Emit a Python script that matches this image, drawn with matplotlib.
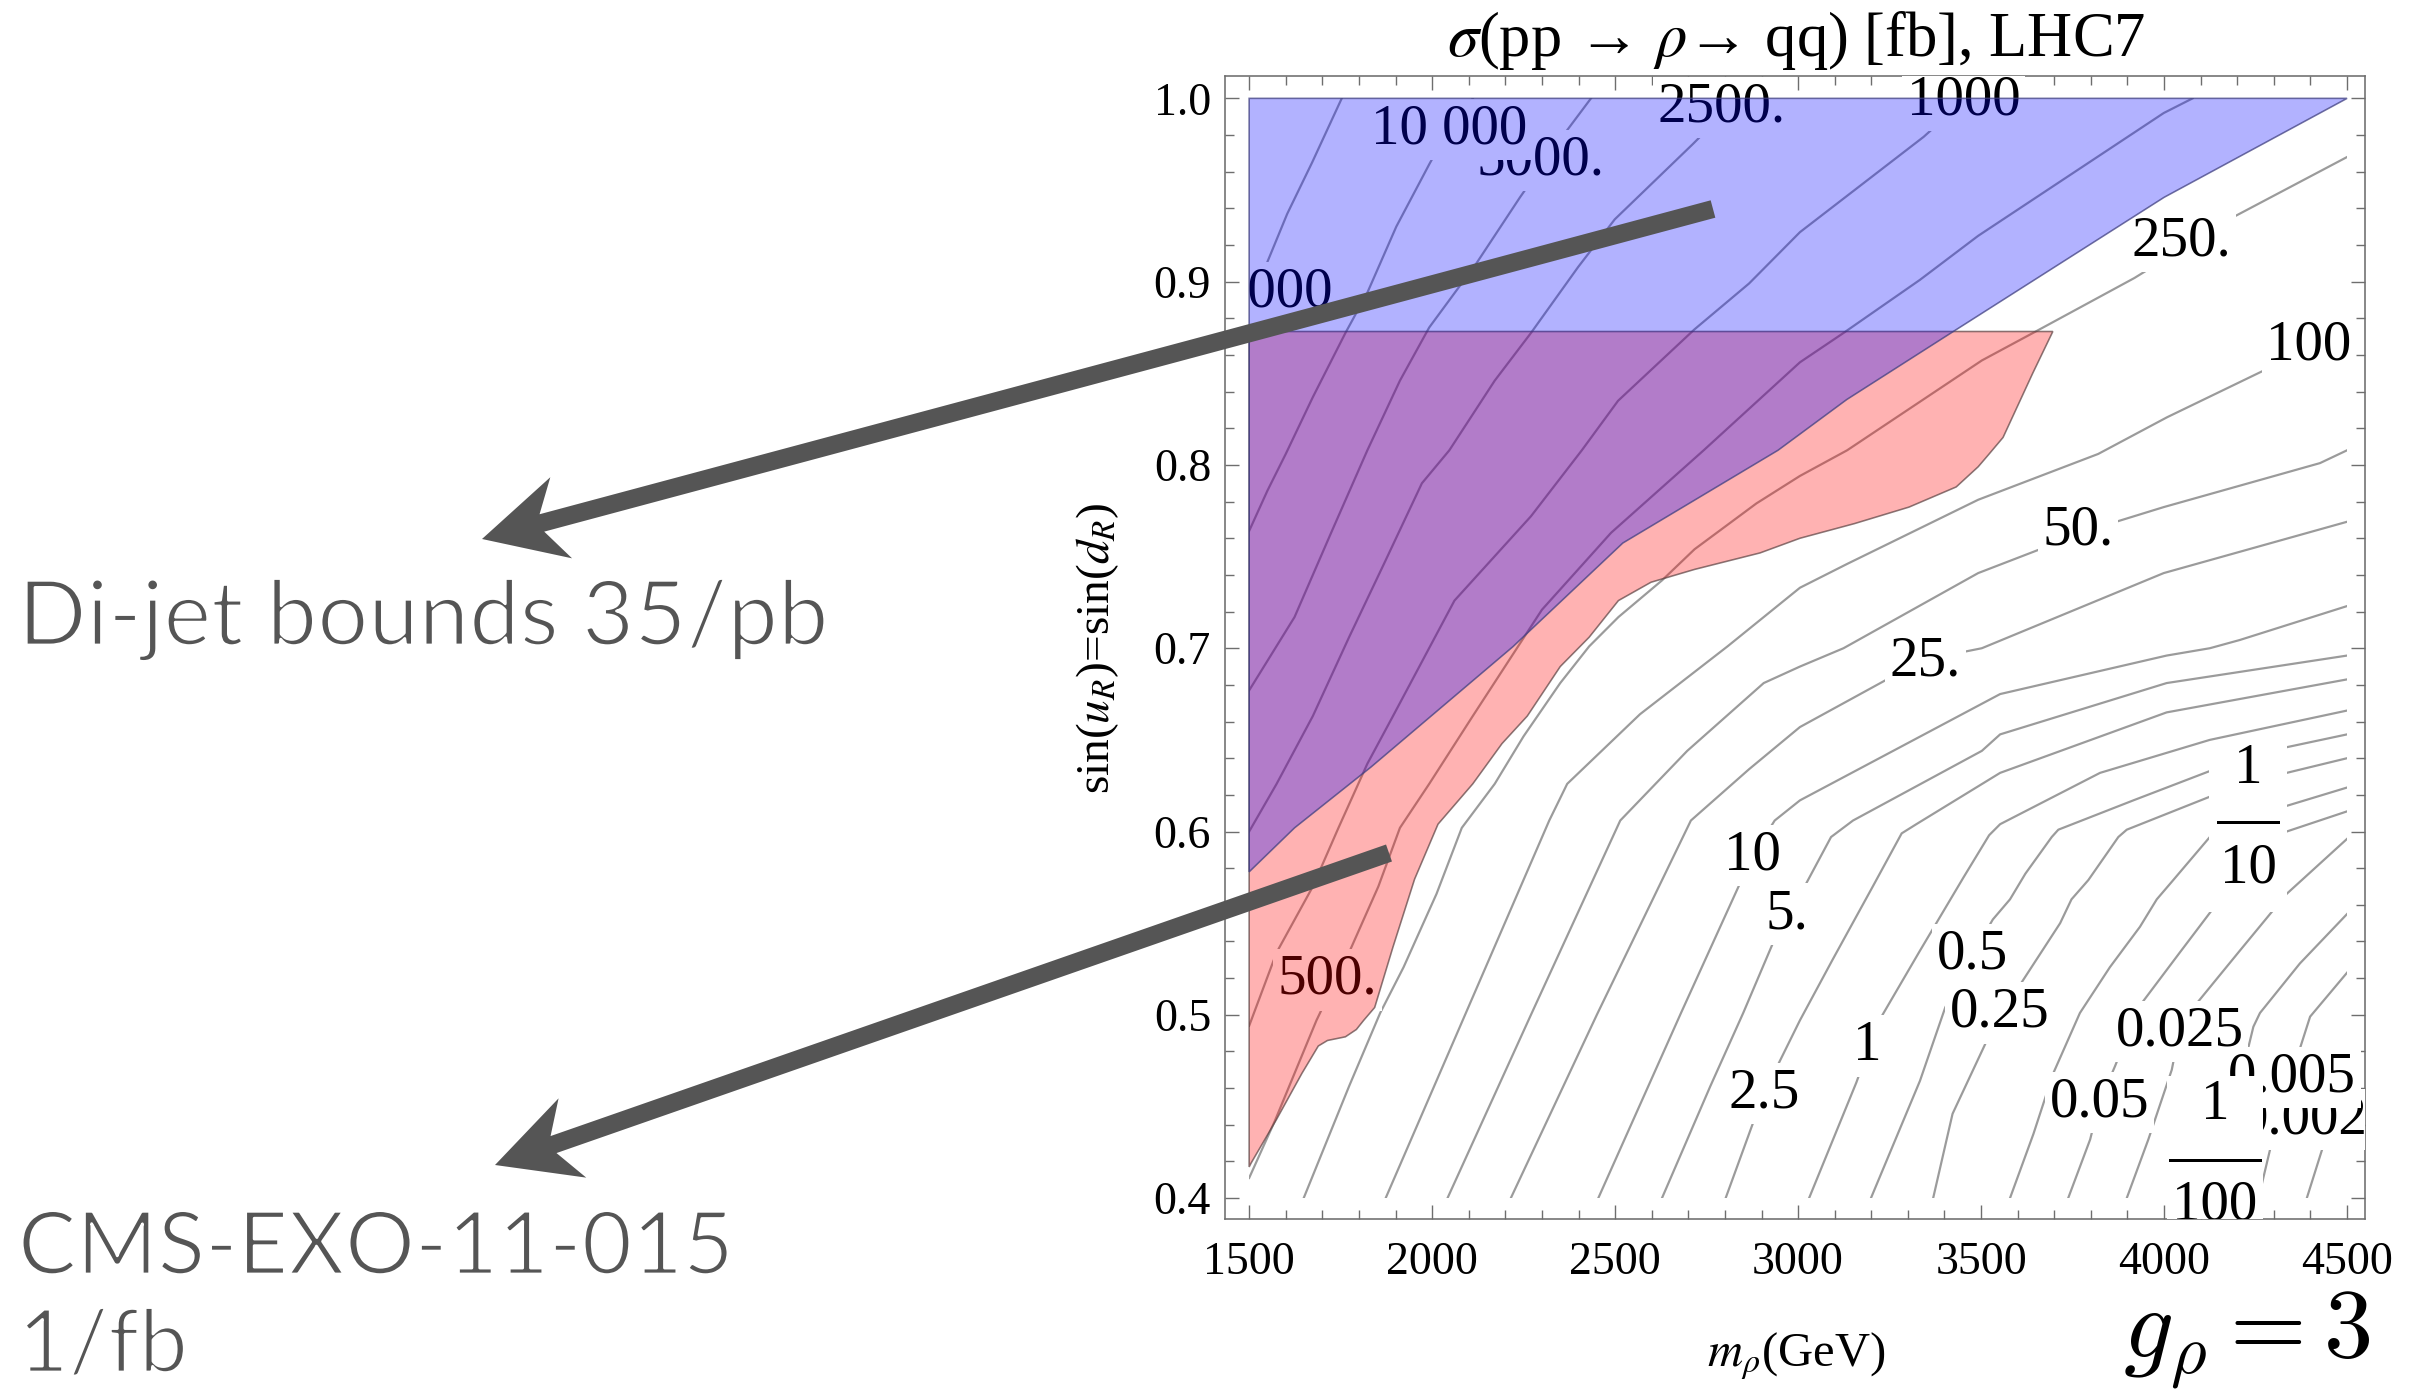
import numpy as np
import matplotlib
matplotlib.use("Agg")
import matplotlib.pyplot as plt
import matplotlib.patheffects as pe
from matplotlib.patches import Polygon, Rectangle
from matplotlib.ticker import MultipleLocator, FormatStrFormatter
from matplotlib.transforms import ScaledTranslation

plt.rcParams["font.family"] = ["Liberation Serif", "DejaVu Serif"]
plt.rcParams["mathtext.fontset"] = "stix"

W, H, DPI = 2421, 1390, 100
PX = 72.0 / DPI  # points per pixel

# --- traced contour lines of sigma(pp -> rho -> qq) [fb] : m_rho (GeV), sin(u_R) ---
c25000_m = [1753, 1672, 1604, 1540, 1500]
c25000_s = [1.0, 0.965, 0.937, 0.906, 0.886]
c10000_m = [2111, 2050, 1992, 1902, 1823, 1763, 1674, 1600, 1550, 1500]
c10000_s = [1.0, 0.985, 0.964, 0.930, 0.894, 0.872, 0.837, 0.806, 0.786, 0.764]
c5000_m = [2434, 2359, 2240, 2121, 1992, 1912, 1823, 1724, 1624, 1500]
c5000_s = [1.0, 0.980, 0.946, 0.910, 0.875, 0.846, 0.808, 0.763, 0.717, 0.677]
c2500_m = [2837, 2712, 2499, 2399, 2270, 2171, 2047, 1972, 1873, 1773, 1674, 1575, 1500]
c2500_s = [1.0, 0.975, 0.934, 0.908, 0.872, 0.846, 0.808, 0.790, 0.748, 0.706, 0.663, 0.626, 0.600]
c1000_m = [3460, 3343, 3005, 2866, 2717, 2508, 2409, 2270, 2061, 1893, 1823, 1744, 1674, 1575, 1500]
c1000_s = [1.0, 0.979, 0.927, 0.899, 0.874, 0.835, 0.808, 0.772, 0.726, 0.663, 0.637, 0.602, 0.570, 0.534, 0.494]
c500_m = [4078, 3999, 3492, 3333, 3124, 3005, 2742, 2489, 2300, 2111, 1992, 1912, 1853, 1773, 1684, 1570, 1500]
c500_s = [1.0, 0.992, 0.925, 0.901, 0.872, 0.856, 0.808, 0.763, 0.721, 0.663, 0.626, 0.602, 0.570, 0.534, 0.497, 0.442, 0.411]
c250_m = [4500, 4187, 3919, 3651, 3502, 3134, 3005, 2886, 2717, 2628, 2509, 2429, 2350, 2250, 2171, 2081, 2012, 1922, 1858, 1773, 1649]
c250_s = [0.968, 0.935, 0.902, 0.873, 0.857, 0.808, 0.794, 0.779, 0.754, 0.737, 0.717, 0.701, 0.681, 0.652, 0.626, 0.602, 0.566, 0.526, 0.501, 0.461, 0.400]
c100_m = [4500, 4267, 4008, 3820, 3492, 3134, 3005, 2807, 2568, 2369, 2320, 2090, 1873]
c100_s = [0.870, 0.851, 0.826, 0.806, 0.781, 0.746, 0.733, 0.701, 0.664, 0.626, 0.606, 0.500, 0.400]
c50_m = [4500, 4426, 3999, 3869, 3661, 3492, 3124, 3005, 2906, 2697, 2514, 2270, 2042]
c50_s = [0.808, 0.801, 0.777, 0.769, 0.754, 0.741, 0.700, 0.690, 0.681, 0.644, 0.606, 0.500, 0.400]
c25_m = [4500, 3999, 3502, 3452, 3243, 3005, 2866, 2707, 2450, 2215]
c25_s = [0.769, 0.741, 0.700, 0.698, 0.683, 0.657, 0.634, 0.606, 0.500, 0.400]
c10_m = [4500, 4207, 4125, 4007, 3552, 3005, 2936, 2876, 2680, 2454]
c10_s = [0.723, 0.7045, 0.700, 0.696, 0.675, 0.617, 0.606, 0.587, 0.501, 0.400]
c5_m = [4500, 4007, 3552, 3502, 3150, 3090, 3015, 2965, 2850, 2760, 2628]
c5_s = [0.696, 0.681, 0.653, 0.644, 0.606, 0.597, 0.569, 0.555, 0.501, 0.461, 0.400]
c2p5_m = [4500, 4007, 3552, 3323, 3283, 3204, 3094, 3005, 2906, 2802]
c2p5_s = [0.683, 0.665, 0.632, 0.604, 0.599, 0.570, 0.530, 0.497, 0.457, 0.400]
c1_m = [4500, 4125, 3825, 3552, 3522, 3452, 3333, 3219, 3159, 3030]
c1_s = [0.666, 0.650, 0.632, 0.604, 0.598, 0.575, 0.535, 0.496, 0.463, 0.400]
c0p5_m = [4500, 4335, 4125, 3916, 3711, 3693, 3621, 3579, 3532, 3477, 3402, 3333, 3199]
c0p5_s = [0.653, 0.646, 0.633, 0.617, 0.601, 0.597, 0.577, 0.563, 0.552, 0.533, 0.504, 0.464, 0.400]
c0p25_m = [4500, 4335, 4125, 3898, 3875, 3793, 3747, 3716, 3602, 3551, 3422, 3369]
c0p25_s = [0.640, 0.632, 0.619, 0.601, 0.597, 0.5735, 0.563, 0.550, 0.515, 0.501, 0.446, 0.400]
c0p1_m = [4500, 4335, 4230, 4125, 4025, 3980, 3934, 3852, 3770, 3697, 3643, 3579]
c0p1_s = [0.624, 0.614, 0.605, 0.597, 0.5735, 0.563, 0.548, 0.526, 0.501, 0.468, 0.435, 0.400]
c0p05_m = [4500, 4335, 4250, 4153, 4043, 3930, 3866, 3823, 3798, 3738]
c0p05_s = [0.611, 0.600, 0.585, 0.563, 0.534, 0.504, 0.472, 0.452, 0.432, 0.400]
c0p025_m = [4500, 4335, 4207, 4080, 4042, 4021, 3957, 3898]
c0p025_s = [0.596, 0.566, 0.535, 0.504, 0.491, 0.470, 0.432, 0.400]
c0p01_m = [4500, 4371, 4262, 4244, 4230, 4189, 4139, 4112]
c0p01_s = [0.555, 0.528, 0.501, 0.4935, 0.482, 0.450, 0.421, 0.400]
c0p005_m = [4500, 4399, 4367, 4335, 4289, 4258]
c0p005_s = [0.523, 0.499, 0.479, 0.466, 0.426, 0.400]
c0p0025_m = [4500, 4449, 4431, 4390]
c0p0025_s = [0.470, 0.439, 0.426, 0.400]

contour_lines = [
    (c25000_m, c25000_s), (c10000_m, c10000_s), (c5000_m, c5000_s), (c2500_m, c2500_s),
    (c1000_m, c1000_s), (c500_m, c500_s), (c250_m, c250_s), (c100_m, c100_s),
    (c50_m, c50_s), (c25_m, c25_s), (c10_m, c10_s), (c5_m, c5_s), (c2p5_m, c2p5_s),
    (c1_m, c1_s), (c0p5_m, c0p5_s), (c0p25_m, c0p25_s), (c0p1_m, c0p1_s),
    (c0p05_m, c0p05_s), (c0p025_m, c0p025_s), (c0p01_m, c0p01_s),
    (c0p005_m, c0p005_s), (c0p0025_m, c0p0025_s),
]

# --- contour labels (drawn in this order, later ones cover earlier ones); "a/b" is a fraction ---
label_text = ["25 000", "5000.", "10 000", "2500.", "1000", "500.", "250.", "100", "50.",
              "25.", "10", "5.", "2.5", "1", "0.5", "0.25", "1/10", "0.05",
              "0.025", "0.0025", "0.005", "1/100"]
label_m = [1515, 2297, 2046, 2792, 3452, 1714, 4048, 4396, 3765,
           3348, 2876, 2970, 2906, 3189, 3477, 3551, 4230, 3823,
           4042, 4420, 4350, 4139]
label_s = [0.894, 0.966, 0.983, 0.995, 0.999, 0.519, 0.922, 0.865, 0.764,
           0.693, 0.587, 0.555, 0.457, 0.483, 0.533, 0.501, 0.605, 0.452,
           0.491, 0.443, 0.466, 0.421]

# --- excluded regions ---
dijet_m = [1500, 4500, 4000, 3424, 3133, 2945, 2521, 2221, 1833, 1624, 1500]
dijet_s = [1.0, 1.0, 0.946, 0.8728, 0.8357, 0.808, 0.7574, 0.7009, 0.6352, 0.602, 0.578]
cms_m = [1500, 3696, 3641, 3560, 3522, 3492, 3432, 3303, 3154, 3005, 2896, 2717, 2598,
         2509, 2429, 2350, 2260, 2191, 2111, 2016, 1952, 1893, 1843, 1813, 1793, 1763,
         1714, 1689, 1644, 1575, 1505, 1500]
cms_s = [0.8728, 0.8728, 0.850, 0.815, 0.806, 0.799, 0.788, 0.777, 0.768, 0.760, 0.752,
         0.743, 0.736, 0.726, 0.706, 0.690, 0.663, 0.648, 0.626, 0.604, 0.574, 0.537,
         0.504, 0.497, 0.492, 0.488, 0.486, 0.483, 0.468, 0.443, 0.419, 0.417]

fig = plt.figure(figsize=(W / DPI, H / DPI), dpi=DPI)
ax = fig.add_axes([1225 / W, 1 - 1219 / H, 1140 / W, 1143 / H])
ax.set_xlim(1434, 4549)
ax.set_ylim(0.3886, 1.0122)

plot_box = Rectangle((1500, 0.4), 3000, 0.6, transform=ax.transData)
label_box = Rectangle((1500, 0.3886), 3049, 0.6236, transform=ax.transData)

for m, s in contour_lines:
    ln, = ax.plot(m, s, color="#9b9b9b", lw=2.2 * PX, zorder=2, solid_joinstyle="round")
    ln.set_clip_path(plot_box)

LABEL_SIZE = 41
for t, m, s in zip(label_text, label_m, label_s):
    if "/" in t:
        num, den = t.split("/")
        wide = len(den) > 2
        tr = fig.dpi_scale_trans + ScaledTranslation(m, s, ax.transData)
        bw = 0.48 if wide else 0.39
        up = 0.84 if wide else 0.80
        bg = Rectangle((-bw, -0.9), 2 * bw, 0.9 + up, transform=tr, fc="white", ec="none", zorder=3)
        ax.add_patch(bg)
        bg.set_clip_path(label_box)
        parts = [
            ax.text(0, 0.545 if wide else 0.53, num, transform=tr, ha="center", va="center",
                    fontsize=LABEL_SIZE, zorder=3, clip_on=True),
            ax.text(0, -0.46, den, transform=tr, ha="center", va="center",
                    fontsize=LABEL_SIZE, zorder=3, clip_on=True),
        ]
        bar, = ax.plot([-0.45 if wide else -0.30, 0.45 if wide else 0.30], [0, 0], transform=tr,
                       color="black", lw=3 * PX, zorder=3)
        parts.append(bar)
        for p in parts:
            p.set_clip_path(label_box)
    else:
        txt = ax.text(m, s, t, ha="center", va="center", fontsize=LABEL_SIZE, color="black",
                      zorder=3, clip_on=True,
                      bbox=dict(boxstyle="square,pad=0.08", fc="white", ec="none"))
        txt.set_clip_path(label_box)

ax.add_patch(Polygon(np.column_stack([cms_m, cms_s]), closed=True, fc=(1, 0, 0, 0.3),
                     ec=(0.35, 0.25, 0.25, 0.7), lw=1.6 * PX, zorder=4))
ax.add_patch(Polygon(np.column_stack([dijet_m, dijet_s]), closed=True, fc=(0, 0, 1, 0.3),
                     ec=(0.25, 0.25, 0.5, 0.75), lw=1.6 * PX, zorder=5))

# frame and ticks
for sp in ax.spines.values():
    sp.set_color("#6e6e6e")
    sp.set_linewidth(1.6 * PX)
ax.xaxis.set_major_locator(MultipleLocator(500))
ax.xaxis.set_minor_locator(MultipleLocator(100))
ax.yaxis.set_major_locator(MultipleLocator(0.1))
ax.yaxis.set_minor_locator(MultipleLocator(0.02))
ax.yaxis.set_major_formatter(FormatStrFormatter("%.1f"))
ax.tick_params(which="both", direction="in", top=True, right=True, color="#6e6e6e",
               width=1.4 * PX, labelsize=33, labelcolor="black")
ax.tick_params(which="major", length=14 * PX)
ax.tick_params(which="minor", length=9 * PX)
ax.tick_params(axis="x", pad=16)
ax.tick_params(axis="y", pad=10)

# titles, axis labels and slide annotations in figure pixels
over = fig.add_axes([0, 0, 1, 1], zorder=10)
over.set_xlim(0, W)
over.set_ylim(H, 0)
over.axis("off")
over.patch.set_alpha(0)

over.text(1796, 56, r"$\sigma$(pp → $\rho$→ qq) [fb], LHC7", ha="center", va="baseline", fontsize=45)
over.text(1796, 1366, r"$m_\rho$(GeV)", ha="center", va="baseline", fontsize=35)
over.text(1098, 648, r"sin($u_R$)=sin($d_R$)", ha="center", va="center", rotation=90, fontsize=34)
over.text(2370, 1358, r"$g_\rho = 3$", ha="right", va="baseline", fontsize=71, math_fontfamily="cm")

# thin light sans for the slide notes (white outline erodes the regular weight)
sans = ["Lato", "DejaVu Sans"]
gray = "#555555"
thin = [pe.Stroke(linewidth=2.0, foreground="white")]
over.text(18, 645, "Di-jet bounds 35/pb", ha="left", va="baseline", fontsize=65,
          family=sans, color=gray, path_effects=thin)
over.text(18, 1274, "CMS-EXO-11-015", ha="left", va="baseline", fontsize=63,
          family=sans, color=gray, path_effects=thin)
over.text(18, 1372, "1/fb", ha="left", va="baseline", fontsize=63,
          family=sans, color=gray, path_effects=thin)


def arrow_patch(tail, tip, half_w=9, head_len=82, head_half=42, notch=62):
    tail = np.array(tail, float)
    tip = np.array(tip, float)
    length = np.linalg.norm(tail - tip)
    u = (tail - tip) / length
    n = np.array([-u[1], u[0]])
    local = [(0, 0), (head_len, head_half), (notch, half_w), (length, half_w),
             (length, -half_w), (notch, -half_w), (head_len, -head_half)]
    pts = [tip + a * u + b * n for a, b in local]
    return Polygon(pts, closed=True, fc="#555555", ec="none", zorder=11)


over.add_patch(arrow_patch((1713, 209), (482, 539)))
over.add_patch(arrow_patch((1389, 853), (495, 1165)))

fig.savefig("out.png", dpi=DPI)
